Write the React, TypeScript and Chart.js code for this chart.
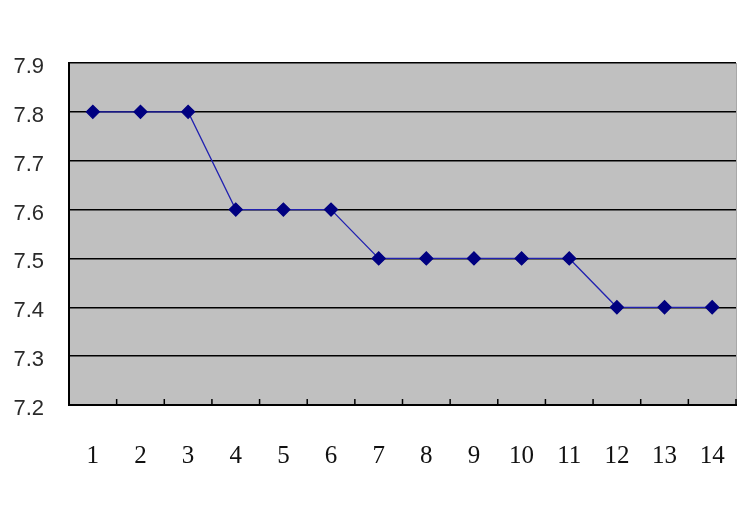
import { useEffect, useRef } from 'react';
import Chart from 'chart.js/auto';

const categories = ['1', '2', '3', '4', '5', '6', '7', '8', '9', '10', '11', '12', '13', '14'];
const values = [7.8, 7.8, 7.8, 7.6, 7.6, 7.6, 7.5, 7.5, 7.5, 7.5, 7.5, 7.4, 7.4, 7.4];
const yMin = 7.2;
const yMax = 7.9;
const yStep = 0.1;

// gray plot area plus the short inward ticks on the category axis
const plotArea = {
  id: 'plotArea',
  beforeDraw(chart: Chart) {
    const { ctx, chartArea } = chart;
    ctx.save();
    ctx.fillStyle = '#c0c0c0';
    ctx.fillRect(chartArea.left, chartArea.top, chartArea.right - chartArea.left, chartArea.bottom - chartArea.top);
    ctx.strokeStyle = '#a8a8a8';
    ctx.lineWidth = 1;
    ctx.beginPath();
    ctx.moveTo(chartArea.right + 0.5, chartArea.top);
    ctx.lineTo(chartArea.right + 0.5, chartArea.bottom);
    ctx.stroke();
    ctx.restore();
  },
  afterDraw(chart: Chart) {
    const { ctx, chartArea } = chart;
    const x = chart.scales.x;
    ctx.save();
    ctx.strokeStyle = '#000';
    ctx.lineWidth = 1.5;
    ctx.beginPath();
    for (let i = 0; i <= categories.length; i++) {
      const px = (x.getPixelForValue(i) + x.getPixelForValue(i - 1)) / 2;
      ctx.moveTo(px, chartArea.bottom);
      ctx.lineTo(px, chartArea.bottom - 6);
    }
    ctx.stroke();
    ctx.restore();
  },
};

export default function App() {
  const chartRef = useRef<HTMLCanvasElement | null>(null);
  const chartInstance = useRef<Chart | null>(null);

  useEffect(() => {
    document.body.style.margin = '0';
    if (!chartRef.current) return;
    if (chartInstance.current) chartInstance.current.destroy();
    const ctx = chartRef.current.getContext('2d');
    if (!ctx) return;

    chartInstance.current = new Chart(ctx, {
      type: 'line',
      data: {
        labels: categories,
        datasets: [
          {
            data: values,
            borderColor: '#2222b0',
            borderWidth: 1.3,
            pointStyle: 'rectRot',
            pointRadius: 6.5,
            pointBackgroundColor: '#000080',
            pointBorderColor: '#000080',
            tension: 0,
          },
        ],
      },
      options: {
        animation: false,
        responsive: true,
        maintainAspectRatio: false,
        layout: { padding: { top: 63, right: 13, left: 0, bottom: 0 } },
        plugins: {
          legend: { display: false },
          tooltip: { enabled: false },
        },
        scales: {
          x: {
            offset: true,
            grid: { display: false, drawTicks: false },
            border: { color: '#000', width: 2 },
            ticks: {
              color: '#111',
              padding: 36,
              font: { family: 'Liberation Serif', size: 25 },
              maxRotation: 0,
            },
            afterFit(scale) {
              scale.height = 108;
              scale.paddingLeft = 0;
              scale.paddingRight = 0;
            },
          },
          y: {
            min: yMin,
            max: yMax,
            grid: { color: '#000', lineWidth: 1.5, drawTicks: false },
            border: { color: '#000', width: 2 },
            ticks: {
              stepSize: yStep,
              color: '#2a2a2a',
              padding: 25,
              labelOffset: 4,
              font: { family: 'Liberation Sans', size: 22 },
              callback: (v) => Number(v).toFixed(1),
            },
            afterFit(scale) {
              scale.width = 69;
              scale.paddingTop = 0;
              scale.paddingBottom = 0;
            },
          },
        },
      },
      plugins: [plotArea],
    });

    return () => {
      if (chartInstance.current) {
        chartInstance.current.destroy();
        chartInstance.current = null;
      }
    };
  }, []);

  return (
    <div style={{ width: 749, height: 513, position: 'relative', background: '#fff' }}>
      <canvas ref={chartRef}></canvas>
    </div>
  );
}
